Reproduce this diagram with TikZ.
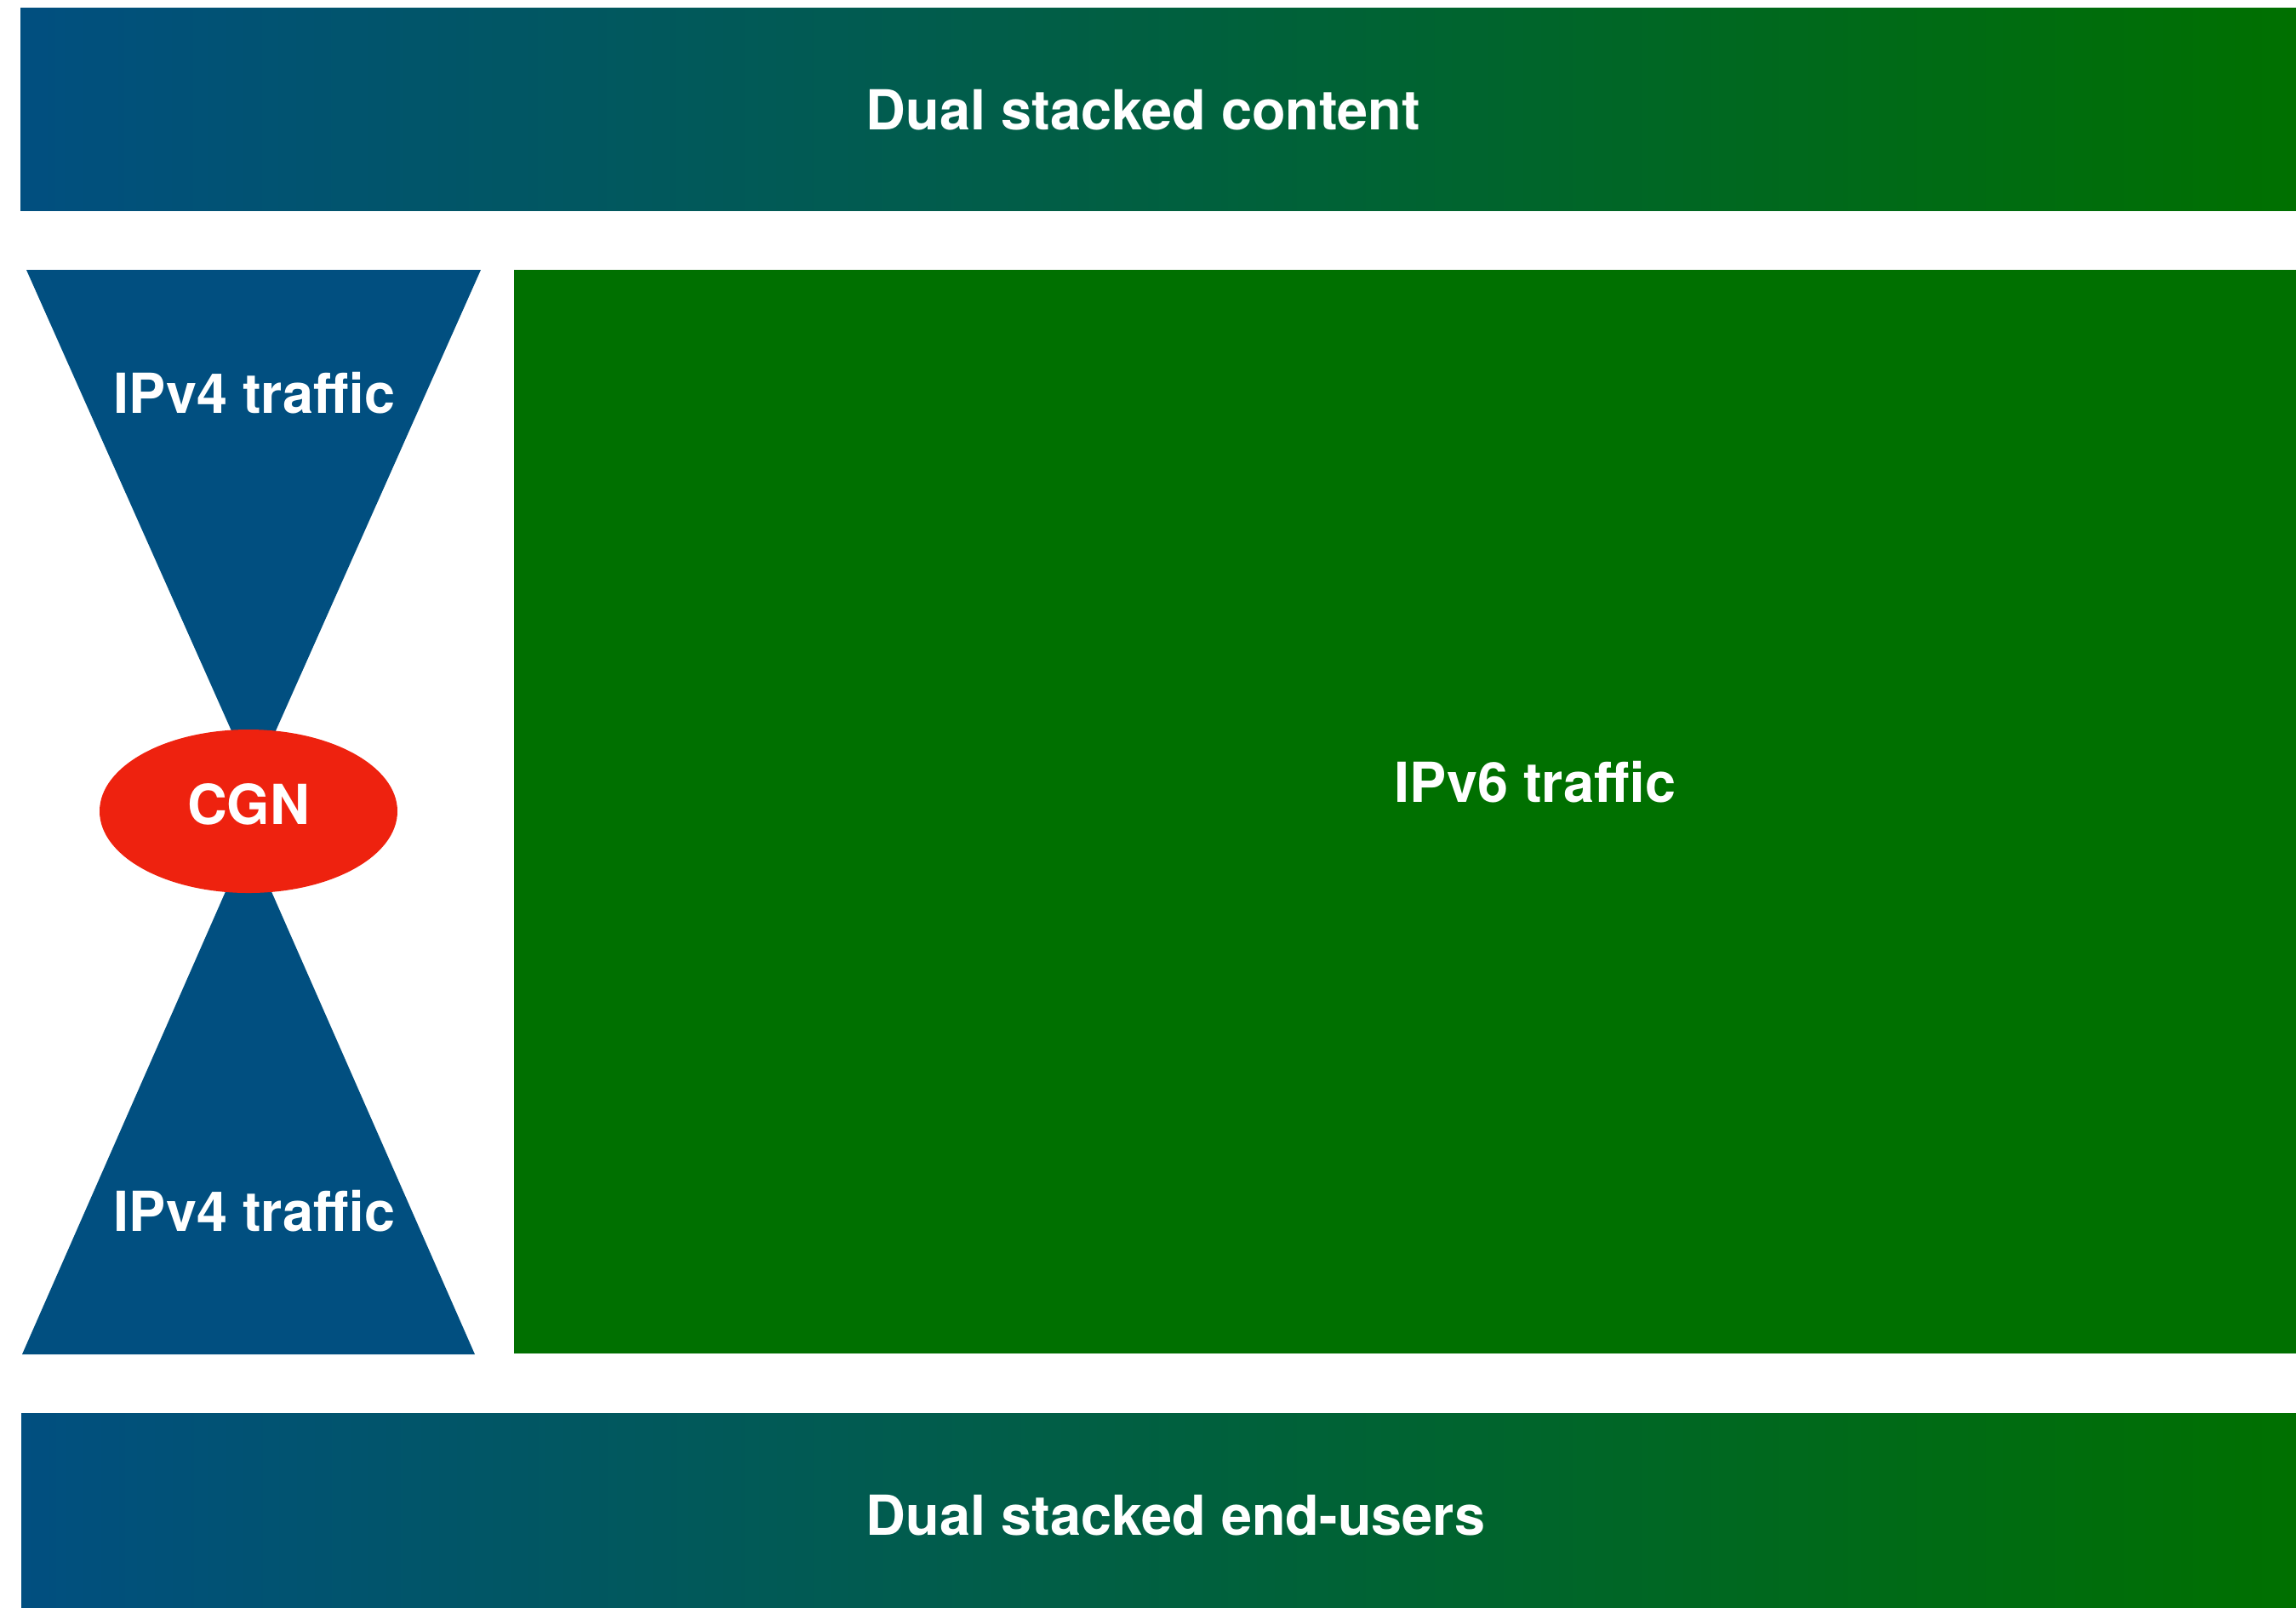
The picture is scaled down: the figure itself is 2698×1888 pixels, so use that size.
\documentclass[tikz,border=0pt]{standalone}
\usepackage{fontspec}
\setmainfont{TeX Gyre Heros}
\usepackage{tikz}
\usetikzlibrary{shapes}

\definecolor{vfourblue}{RGB}{1,79,128}
\definecolor{vsixgreen}{RGB}{0,112,0}
\definecolor{cgnred}{RGB}{238,34,15}

\tikzset{
  lbl/.style={text=white,inner sep=0.75pt,font=\fontsize{16.2}{19}\selectfont\bfseries},
  stackbar/.style={left color=vfourblue,right color=vsixgreen,draw=none},
  cgnblob/.style={ellipse,fill=cgnred,draw=none,minimum width=87.5pt,minimum height=48pt,inner sep=0pt}
}

\begin{document}
\begin{tikzpicture}[x=0.25pt,y=0.25pt,yscale=-1,xscale=1]
\useasboundingbox (0,0) rectangle (2698,1888);

%Shape: Rectangle [content bar]
\fill [stackbar] (24,9) rectangle (2698,247);
%Shape: Rectangle [end-user bar]
\fill [stackbar] (25,1660) rectangle (2698,1888);
%Shape: Rectangle [v6 block]
\fill [vsixgreen] (604,317) rectangle (2698,1590);

%Shape: Triangle [upper funnel]
\fill [vfourblue] (31,317) -- (565,317) -- (298,917) -- cycle ;
%Shape: Triangle [lower funnel]
\fill [vfourblue] (26,1591) -- (558,1591) -- (292,986) -- cycle ;

%Shape: Ellipse
\node [cgnblob] (cgn) at (292,953) {};

% Text Node
\node [lbl,anchor=base west] (content) at (1014,152) {Dual stacked content};
% Text Node
\node [lbl,anchor=base west] (endusers) at (1014,1803) {Dual stacked end-users};
% Text Node
\node [lbl,anchor=base] (vfourtop) at (299,485) {IPv4 traffic};
% Text Node
\node [lbl,anchor=base] (vfourbot) at (299,1446) {IPv4 traffic};
% Text Node
\node [lbl,anchor=base] (vsix) at (1804,942) {IPv6 traffic};
% Text Node
\node [lbl] (cgnlbl) at (292,945) {CGN};

\end{tikzpicture}
\end{document}
